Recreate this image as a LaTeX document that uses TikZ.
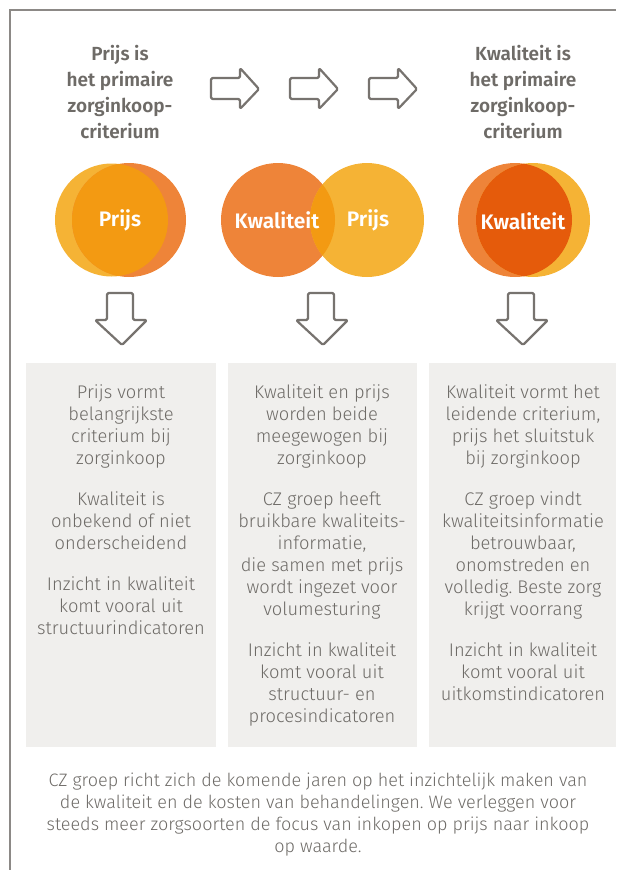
\documentclass[tikz,border=0pt]{standalone}
\usepackage{fontspec}
\setmainfont{Fira Sans Light}[BoldFont=Fira Sans SemiBold]
\frenchspacing
\definecolor{txt}{HTML}{6E6B67}
\definecolor{frame}{HTML}{8C8986}
\definecolor{boxbg}{HTML}{F0EFED}
\definecolor{yel}{HTML}{F5B335}
\definecolor{ora}{HTML}{EE8439}
\definecolor{lensA}{HTML}{F39A12}
\definecolor{lensB}{HTML}{E55B0B}
\definecolor{arr}{HTML}{77736F}
\tikzset{
  head/.style={font=\bfseries\fontsize{19}{26}\selectfont, text=txt, align=center},
  body/.style={font=\fontsize{18.3}{22}\selectfont, text=txt, align=center, anchor=north},
  foot/.style={font=\fontsize{18}{22}\selectfont, text=txt, align=center},
  circlbl/.style={font=\bfseries\fontsize{21}{22}\selectfont, text=white},
  panel/.style={fill=boxbg, draw=none},
  arrline/.style={draw=arr, line width=2.2pt, line join=round, rounded corners=1.5pt, fill=white},
}
\begin{document}
\begin{tikzpicture}[x=1pt,y=-1pt]
\useasboundingbox (0,0) rectangle (616,870);
% frame
\draw[frame, line width=1.3pt] (10,870) -- (10,10) -- (616,10);
% headings
\node[head] (h1) at (120,92) {Prijs is\\het primaire\\zorginkoop-\\criterium};
\node[head] (h3) at (523,92) {Kwaliteit is\\het primaire\\zorginkoop-\\criterium};
% right arrows
\foreach \x [count=\i] in {211,290,369}{
  \draw[arrline] (\x,78) -- (\x+29,78) -- (\x+29,68) -- (\x+48,89) -- (\x+29,109) -- (\x+29,99) -- (\x,99) -- cycle;
}
% circles group 1
\fill[yel] (111.5,220) circle (56.5);
\fill[ora] (129,220) circle (57);
\begin{scope}
  \clip (111.5,220) circle (56.5);
  \fill[lensA] (129,220) circle (57);
\end{scope}
\node[circlbl] (c1) at (120,220) {Prijs};
% circles group 2
\fill[ora] (278,220) circle (57);
\fill[yel] (367,220) circle (57);
\begin{scope}
  \clip (278,220) circle (57);
  \fill[lensA] (367,220) circle (57);
\end{scope}
\node[circlbl] (c2a) at (277,220) {Kwaliteit};
\node[circlbl] (c2b) at (368,220) {Prijs};
% circles group 3
\fill[ora] (515,220) circle (57);
\fill[yel] (533,220) circle (57);
\begin{scope}
  \clip (515,220) circle (57);
  \fill[lensB] (533,220) circle (57);
\end{scope}
\node[circlbl] (c3) at (523,221) {Kwaliteit};
% down arrows
\foreach \x in {121,322,522}{
  \draw[arrline] (\x-14,293) -- (\x+12,293) -- (\x+12,320) -- (\x+26,320) -- (\x+1,345) -- (\x-26,320) -- (\x-14,320) -- cycle;
}
% panels
\fill[panel] (26,363) rectangle (216,747);
\fill[panel] (228,363) rectangle (417,747);
\fill[panel] (429,363) rectangle (616,747);
\node[body] (b1) at (121,381) {Prijs vormt\\belangrijkste\\criterium bij\\zorginkoop\\[19pt]Kwaliteit is\\onbekend of niet\\onderscheidend\\[19pt]Inzicht in kwaliteit\\komt vooral uit\\structuurindicatoren};
\node[body] (b2) at (322,381) {Kwaliteit en prijs\\worden beide\\meegewogen bij\\zorginkoop\\[19pt]CZ groep heeft\\bruikbare kwaliteits-\\informatie,\\die samen met prijs\\wordt ingezet voor\\volumesturing\\[19pt]Inzicht in kwaliteit\\komt vooral uit\\structuur- en\\procesindicatoren};
\node[body] (b3) at (523,381) {Kwaliteit vormt het\\leidende criterium,\\prijs het sluitstuk\\bij zorginkoop\\[19pt]CZ groep vindt\\kwaliteitsinformatie\\betrouwbaar,\\onomstreden en\\volledig. Beste zorg\\krijgt voorrang\\[19pt]Inzicht in kwaliteit\\komt vooral uit\\uitkomstindicatoren};
% footer
\node[foot] (f) at (318,815) {CZ groep richt zich de komende jaren op het inzichtelijk maken van\\de kwaliteit en de kosten van behandelingen. We verleggen voor\\steeds meer zorgsoorten de focus van inkopen op prijs naar inkoop\\op waarde.};
\end{tikzpicture}
\end{document}
